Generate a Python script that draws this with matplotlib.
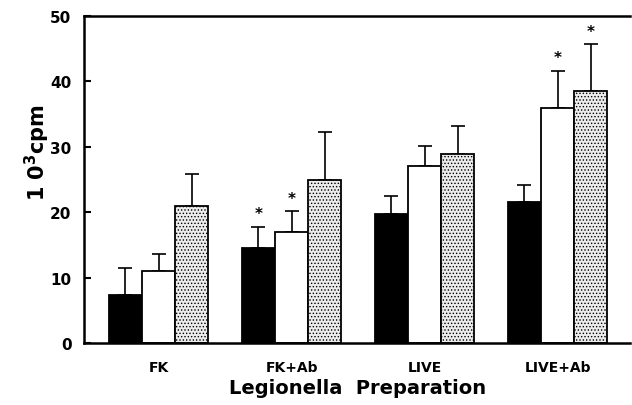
import numpy as np
import matplotlib
matplotlib.use("Agg")
import matplotlib.pyplot as plt

plt.rcParams["font.family"] = ["DejaVu Sans"]
plt.rcParams["font.weight"] = "bold"
plt.rcParams["hatch.color"] = "#9a9a9a"
plt.rcParams["hatch.linewidth"] = 0.6

# ── data (10^3 cpm) ──────────────────────────────────────────────────────────
groups = ["FK", "FK+Ab", "LIVE", "LIVE+Ab"]
black_mean = [7.4, 14.5, 19.7, 21.5]
black_err = [4.0, 3.3, 2.8, 2.7]
white_mean = [11.0, 17.0, 27.1, 36.0]
white_err = [2.6, 3.1, 3.0, 5.6]
dot_mean = [20.9, 24.9, 28.9, 38.5]
dot_err = [5.0, 7.3, 4.3, 7.2]
# significance stars per series (True = star above error bar)
black_star = [False, True, False, False]
white_star = [False, True, False, True]
dot_star = [False, False, False, True]

x = np.arange(len(groups))
w = 0.25

fig = plt.figure(figsize=(6.32, 4.06), dpi=100)
ax = fig.add_axes([0.133, 0.153, 0.864, 0.805])

series = [
    (black_mean, black_err, black_star, -w, dict(facecolor="black", hatch=None)),
    (white_mean, white_err, white_star, 0.0, dict(facecolor="white", hatch=None)),
    (dot_mean, dot_err, dot_star, w, dict(facecolor="#ececec", hatch=".....")),
]

for mean, err, star, off, style in series:
    pos = x + off
    ax.bar(pos, mean, width=w, edgecolor="black", linewidth=1.3, zorder=2, **style)
    ax.errorbar(pos, mean, yerr=[np.zeros(len(err)), err], fmt="none",
                ecolor="black", elinewidth=1.2, capsize=5, capthick=1.2, zorder=1)
    for p, m, e, s in zip(pos, mean, err, star):
        if s:
            ax.text(p, m + e + 2.0, "*", ha="center", va="center",
                    fontsize=11, fontweight="bold")

ax.set_xlim(-0.56, 3.545)
ax.set_ylim(0, 50)
ax.set_yticks(range(0, 51, 10))
ax.set_xticks(x)
ax.set_xticklabels(groups, fontsize=10, fontweight="bold")
ax.tick_params(axis="x", length=0, pad=12)
ax.tick_params(axis="y", direction="in", length=5, width=1.5, labelsize=11, pad=9)
for lbl in ax.get_yticklabels():
    lbl.set_fontweight("bold")

ax.spines["right"].set_visible(False)
for s in ("left", "top", "bottom"):
    ax.spines[s].set_linewidth(1.8)

ax.set_xlabel("Legionella  Preparation", fontsize=14, fontweight="bold", labelpad=3)
ax.set_ylabel("1 0$^{\\mathbf{3}}$cpm", fontsize=15, fontweight="bold")
ax.yaxis.set_label_coords(-0.058, 0.584)

fig.savefig("out.png", dpi=100)
